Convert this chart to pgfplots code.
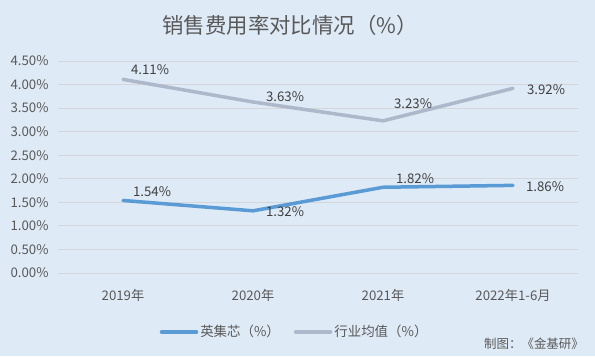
\documentclass[border=0pt]{standalone}
\usepackage{pgfplots}
\pgfplotsset{compat=1.18}
\usepackage{pgfplotstable}
\usepackage{fontspec}
\setmainfont{Noto Sans CJK SC}
\definecolor{bg}{HTML}{DEEAF6}
\definecolor{gridc}{HTML}{D3D6DA}
\definecolor{tc}{HTML}{595959}
\definecolor{lc}{HTML}{404040}
\definecolor{blueline}{HTML}{5B9BD5}
\definecolor{grayline}{HTML}{ADB9CA}
\pgfplotstableread{
x y dx dy
0 1.54 29 8.5
1 1.32 32 -1
2 1.82 32 9
3 1.86 32 -1.5
}\tblA
\pgfplotstableread{
x y dx dy
0 4.11 27 9.4
1 3.63 32 5
2 3.23 30 17
3 3.92 33 -1.7
}\tblB
\begin{document}
\begin{tikzpicture}[x=1bp,y=1bp]
\fill[bg] (0,0) rectangle (595,356);
\node[text=tc, font=\fontsize{21.5}{24}\selectfont] at (290,331) {销售费用率对比情况（\%）};
\node[text=tc, font=\fontsize{12.5}{14}\selectfont] at (534,12) {制图：《金基研》};
\begin{axis}[
  at={(58bp,83bp)}, anchor=south west,
  scale only axis, width=520bp, height=212bp,
  xmin=-0.5, xmax=3.5, ymin=0, ymax=4.5,
  /pgf/number format/assume math mode=true,
  xtick={0,1,2,3},
  xticklabels={2019年,2020年,2021年,2022年1-6月},
  ytick={0,0.5,1,1.5,2,2.5,3,3.5,4,4.5},
  yticklabel={\pgfmathprintnumber[fixed,fixed zerofill,precision=2]{\tick}\%},
  ymajorgrids, grid style={gridc, line width=0.8bp},
  axis line style={draw=none},
  major tick length=0pt,
  tick label style={text=tc, font=\fontsize{13.3}{15}\selectfont},
  xticklabel style={anchor=center, yshift=-22bp},
  yticklabel style={anchor=east, xshift=-6bp},
  clip=false,
  legend columns=2,
  legend style={at={(0.455,-0.278)}, anchor=center, draw=none, fill=none,
    font=\fontsize{13.5}{15}\selectfont, text=tc,
    /tikz/every even column/.append style={column sep=12bp}},
  legend image code/.code={\draw[#1] (0bp,0bp) -- (35bp,0bp);},
  nodes near coords={\pgfmathprintnumber[fixed,fixed zerofill,precision=2]{\pgfplotspointmeta}\%},
  every node near coord/.append style={text=lc, font=\fontsize{13.3}{15}\selectfont, anchor=center, xshift=\dx bp, yshift=\dy bp},
  visualization depends on={\thisrow{dx} \as \dx},
  visualization depends on={\thisrow{dy} \as \dy},
  point meta=explicit,
]
\draw[gridc, line width=0.8bp] (rel axis cs:0,0) -- (rel axis cs:1,0);
\addplot[blueline, line width=3.5bp, line cap=round, line join=round, mark=none]
  table[x=x, y=y, meta=y] {\tblA};
\addlegendentry{英集芯（\%）}
\addplot[grayline, line width=3.5bp, line cap=round, line join=round, mark=none]
  table[x=x, y=y, meta=y] {\tblB};
\addlegendentry{行业均值（\%）}
\end{axis}
\end{tikzpicture}
\end{document}
